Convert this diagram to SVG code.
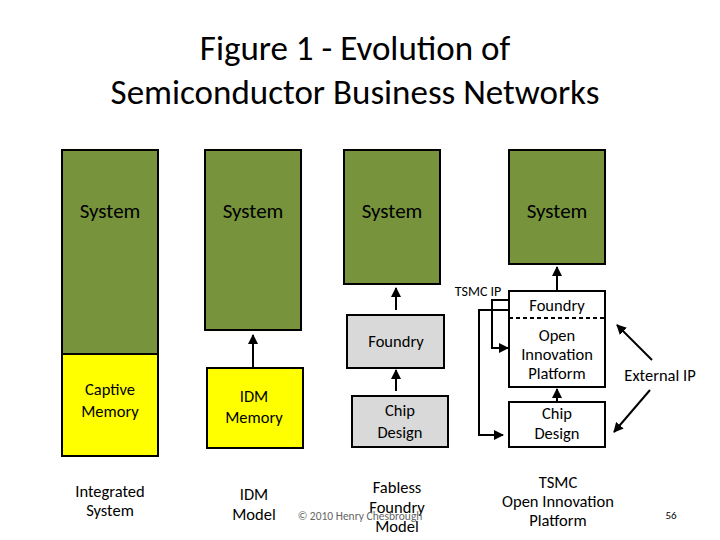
<svg xmlns="http://www.w3.org/2000/svg" width="720" height="540" viewBox="0 0 720 540">
<defs><marker id="ah" viewBox="0 0 10 10" refX="9" refY="5" markerWidth="5" markerHeight="5" orient="auto"><path d="M0,0 L10,5 L0,10 z" fill="#000"/></marker></defs>
<style>
text{font-family:Calibri,"Liberation Sans",sans-serif;text-anchor:middle;fill:#000}
.g{fill:#77933c;stroke:#000;stroke-width:2}
.y{fill:#ffff00;stroke:#000;stroke-width:2}
.s{fill:#d9d9d9;stroke:#000;stroke-width:2}
.w{fill:#fff;stroke:#000;stroke-width:2}
.c{fill:none;stroke:#000;stroke-width:2;marker-end:url(#ah)}
.t{font-size:21px}.m{font-size:16.5px}
</style>
<rect width="720" height="540" fill="#fff"/>
<text x="355" y="60" font-size="35">Figure 1 - Evolution of</text>
<text x="355" y="104" font-size="35">Semiconductor Business Networks</text>
<g id="sys1"><rect class="g" x="62" y="150" width="96" height="204"/><text class="t" x="110" y="218">System</text></g>
<g id="captive"><rect class="y" x="62" y="354" width="96" height="102"/><text class="m" x="110" y="395">Captive</text><text class="m" x="110" y="417">Memory</text></g>
<g id="sys2"><rect class="g" x="205" y="150" width="96" height="180"/><text class="t" x="253" y="218">System</text></g>
<g id="idmmem"><rect class="y" x="207" y="368" width="96" height="80"/><text class="m" x="254" y="402">IDM</text><text class="m" x="254" y="423">Memory</text></g>
<g id="sys3"><rect class="g" x="344" y="150" width="96" height="134"/><text class="t" x="392" y="218">System</text></g>
<g id="foundry3"><rect class="s" x="347" y="315" width="97" height="53"/><text class="m" x="396" y="347">Foundry</text></g>
<g id="chip3"><rect class="s" x="352" y="396" width="96" height="51"/><text class="m" x="400" y="416">Chip</text><text class="m" x="400" y="438">Design</text></g>
<g id="sys4"><rect class="g" x="509" y="150" width="96" height="114"/><text class="t" x="557" y="218">System</text></g>
<g id="oip"><rect class="w" x="509" y="291" width="96" height="96"/><line x1="509" y1="318" x2="605" y2="318" stroke="#000" stroke-width="2" stroke-dasharray="4,3"/><text class="m" x="557" y="311">Foundry</text><text class="m" x="557" y="341">Open</text><text class="m" x="557" y="360">Innovation</text><text class="m" x="557" y="379">Platform</text></g>
<g id="chip4"><rect class="w" x="509" y="402" width="96" height="45"/><text class="m" x="557" y="419">Chip</text><text class="m" x="557" y="439">Design</text></g>
<g id="labels">
<text class="m" x="110" y="497">Integrated</text><text class="m" x="110" y="516">System</text>
<text class="m" x="254" y="500">IDM</text><text class="m" x="254" y="520">Model</text>
<text class="m" x="397" y="493">Fabless</text><text class="m" x="397" y="513">Foundry</text><text class="m" x="397" y="532">Model</text>
<text class="m" x="558" y="488">TSMC</text><text class="m" x="558" y="507">Open Innovation</text><text class="m" x="558" y="526">Platform</text>
<text x="360" y="520" font-size="11.5" style="fill:#666">© 2010 Henry Chesbrough</text>
<text x="671" y="519" font-size="11">56</text>
<text class="m" x="478" y="296" style="font-size:14px">TSMC IP</text>
<text class="m" x="660" y="381">External IP</text>
</g>
<g id="connectors">
<line class="c" x1="253" y1="367" x2="253" y2="335"/>
<line class="c" x1="396" y1="310" x2="396" y2="288"/>
<line class="c" x1="396" y1="391" x2="396" y2="370"/>
<line class="c" x1="557" y1="290" x2="557" y2="267"/>
<line class="c" x1="557" y1="401" x2="557" y2="389"/>
<polyline class="c" points="509,300 492,300 492,348 508,348"/>
<polyline class="c" points="509,310 479,310 479,435 503,435"/>
<line class="c" x1="652" y1="360" x2="617" y2="325"/>
<line class="c" x1="650" y1="390" x2="614" y2="432"/>
</g>
</svg>
